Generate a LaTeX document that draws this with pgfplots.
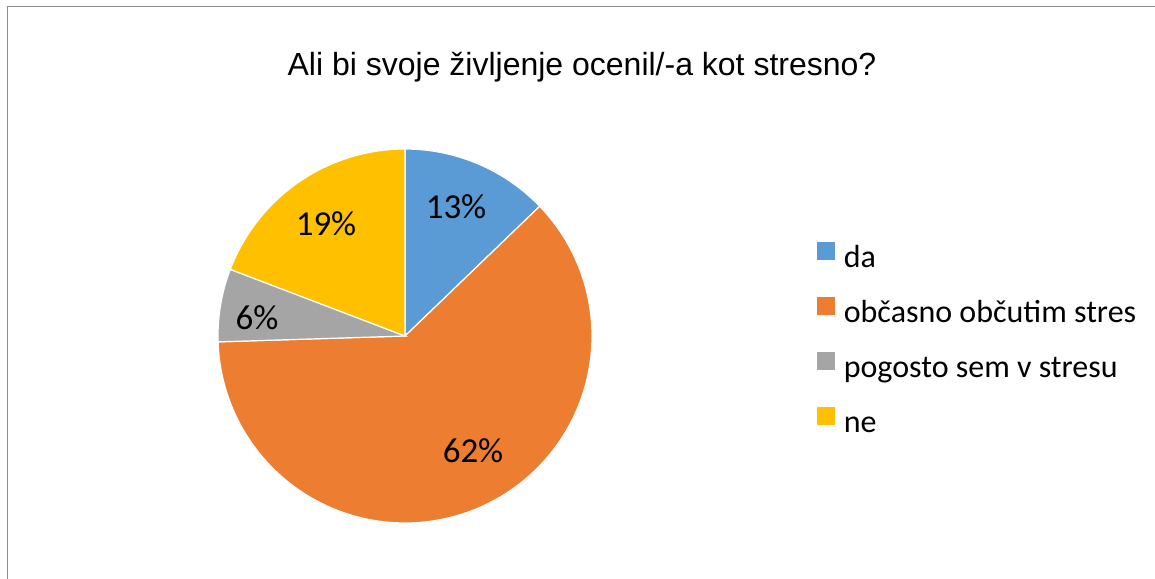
\documentclass[border=0pt]{standalone}
\usepackage{pgfplots}
\pgfplotsset{compat=1.18}
\usepackage{fontspec}
\setmainfont{Liberation Sans}
\newfontfamily\carlito{Carlito}
\definecolor{cda}{HTML}{5B9BD5}
\definecolor{cob}{HTML}{ED7D31}
\definecolor{cpo}{HTML}{A5A5A5}
\definecolor{cne}{HTML}{FFC000}
% shares (percent)
\def\vA{12.8}\def\vB{61.7}\def\vC{6.3}\def\vD{19.2}
\pgfmathsetmacro\sA{90}
\pgfmathsetmacro\sB{\sA-3.6*\vA}
\pgfmathsetmacro\sC{\sB-3.6*\vB}
\pgfmathsetmacro\sD{\sC-3.6*\vC}
\pgfmathsetmacro\sE{\sD-3.6*\vD}
\def\cx{405}\def\cy{242}\def\rr{187}
\begin{document}
\begin{tikzpicture}
\begin{axis}[
  scale only axis, width=1155pt, height=578pt,
  xmin=0, xmax=1155, ymin=0, ymax=578,
  hide axis, clip=false,
  legend style={at={(axis cs:817,336)}, anchor=north west, draw=none, fill=none,
    inner sep=0pt, row sep=22.5pt,
    font=\fontsize{32}{38}\selectfont\carlito,
    nodes={text height=22pt, text depth=7pt, inner sep=0pt}},
  legend cell align=left,
  legend image code/.code={\fill[#1,draw=none] (0pt,0pt) rectangle (18pt,18pt);
    \path (26pt,0pt);},
]
\draw[color=black!45, line width=1pt] (axis cs:7,-100) -- (axis cs:7,571.5) -- (axis cs:1300,571.5);
\addplot[fill=cda, draw=white, line width=1.2pt, domain=\sA:\sB, samples=60]
  ({\cx+\rr*cos(x)}, {\cy+\rr*sin(x)}) -- (axis cs:\cx,\cy) -- cycle;
\addlegendentry{da}
\addplot[fill=cob, draw=white, line width=1.2pt, domain=\sB:\sC, samples=150]
  ({\cx+\rr*cos(x)}, {\cy+\rr*sin(x)}) -- (axis cs:\cx,\cy) -- cycle;
\addlegendentry{občasno občutim stres}
\addplot[fill=cpo, draw=white, line width=1.2pt, domain=\sC:\sD, samples=30]
  ({\cx+\rr*cos(x)}, {\cy+\rr*sin(x)}) -- (axis cs:\cx,\cy) -- cycle;
\addlegendentry{pogosto sem v stresu}
\addplot[fill=cne, draw=white, line width=1.2pt, domain=\sD:\sE, samples=60]
  ({\cx+\rr*cos(x)}, {\cy+\rr*sin(x)}) -- (axis cs:\cx,\cy) -- cycle;
\addlegendentry{ne}
\node[font=\fontsize{32}{38}\selectfont] at (axis cs:582,511) {Ali bi svoje življenje ocenil/-a kot stresno?};
\node[font=\fontsize{35}{40}\selectfont\carlito] at (axis cs:456,371) {13\%};
\node[font=\fontsize{35}{40}\selectfont\carlito] at (axis cs:473,127) {62\%};
\node[font=\fontsize{35}{40}\selectfont\carlito] at (axis cs:257,260) {6\%};
\node[font=\fontsize{35}{40}\selectfont\carlito] at (axis cs:326,354) {19\%};
\end{axis}
\pgfresetboundingbox
\path (current axis.south west) rectangle (current axis.north east);
\end{tikzpicture}
\end{document}
